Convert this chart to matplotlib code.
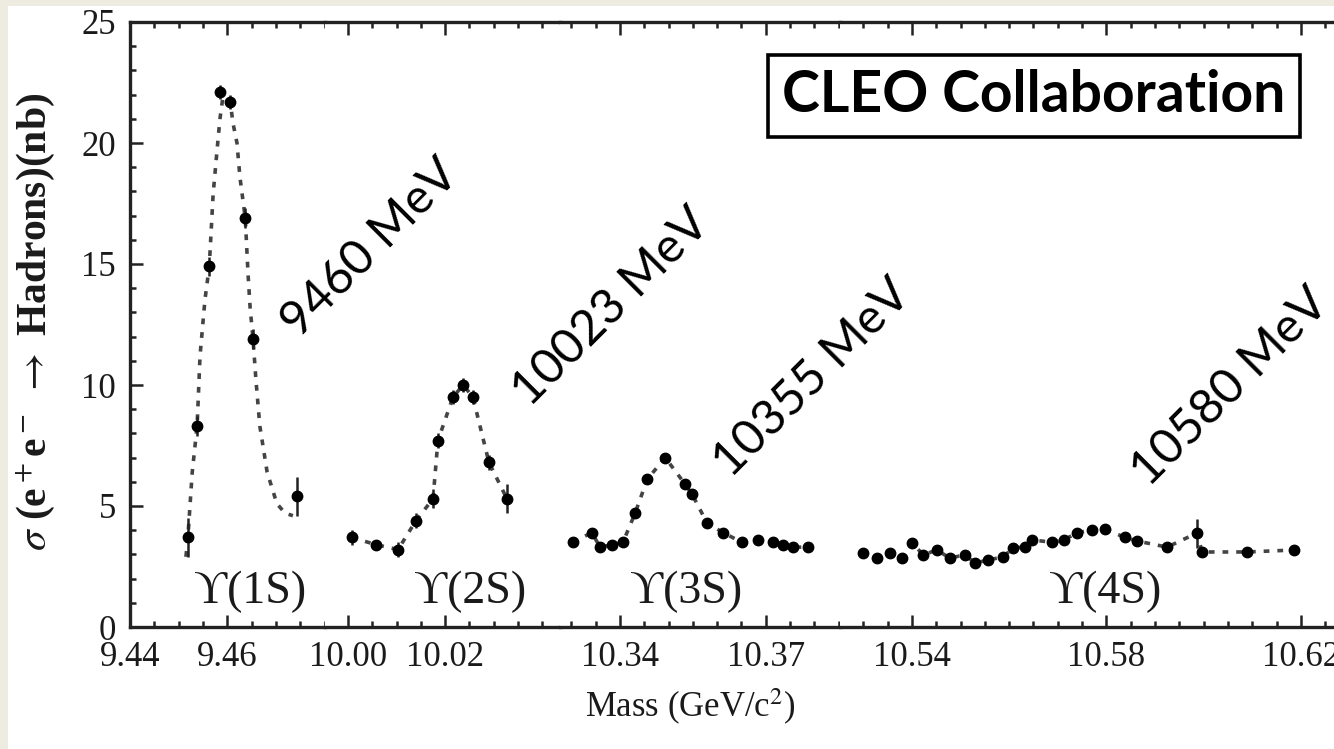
import matplotlib.pyplot as plt
from matplotlib.patches import Rectangle
from matplotlib.ticker import MultipleLocator, FixedLocator

plt.rcParams['mathtext.fontset'] = 'stix'

# 数据：质量 (GeV/c^2) 与截面 (nb)
# Y(1S)
m1 = [9.4519, 9.4538, 9.4563, 9.4585, 9.4606, 9.4637, 9.4653, 9.4744]
s1 = [3.7, 8.3, 14.9, 22.1, 21.7, 16.9, 11.9, 5.4]
e1 = [0.8, 0.4, 0.4, 0.3, 0.3, 0.4, 0.4, 0.8]
fit1_m = [9.4515, 9.4519, 9.4528, 9.4538, 9.4544, 9.4554, 9.4563, 9.4571, 9.4579,
          9.4585, 9.4591, 9.4606, 9.4612, 9.4620, 9.4626, 9.4637, 9.4643, 9.4647,
          9.4653, 9.4659, 9.4667, 9.4682, 9.4702, 9.4719, 9.4735]
fit1_s = [2.9, 3.7, 6.4, 8.3, 11.2, 13.5, 14.9, 17.9, 19.7,
          21.0, 21.9, 21.7, 20.8, 20.0, 18.6, 16.9, 14.5, 13.2,
          11.9, 10.2, 8.3, 6.4, 5.1, 4.7, 4.6]

# Y(2S)
m2 = [10.0008, 10.0058, 10.0103, 10.0140, 10.0175, 10.0185, 10.0216, 10.0237,
      10.0257, 10.0290, 10.0327]
s2 = [3.7, 3.4, 3.2, 4.4, 5.3, 7.7, 9.5, 10.0, 9.5, 6.8, 5.3]
e2 = [0.3, 0.2, 0.3, 0.3, 0.4, 0.3, 0.3, 0.3, 0.3, 0.3, 0.6]

# Y(3S)
m3 = [10.3303, 10.3342, 10.3359, 10.3384, 10.3406, 10.3431, 10.3456, 10.3493,
      10.3534, 10.3548, 10.3579, 10.3612, 10.3651, 10.3684, 10.3715, 10.3735,
      10.3756, 10.3787]
s3 = [3.5, 3.9, 3.3, 3.4, 3.5, 4.7, 6.1, 7.0, 5.9, 5.5, 4.3, 3.9, 3.5, 3.6,
      3.5, 3.4, 3.3, 3.3]
e3 = [0.2] * len(m3)

# Y(4S)
m4 = [10.5299, 10.5328, 10.5355, 10.5379, 10.5401, 10.5423, 10.5451, 10.5478,
      10.5509, 10.5530, 10.5556, 10.5587, 10.5608, 10.5633, 10.5647, 10.5688,
      10.5713, 10.5740, 10.5770, 10.5797, 10.5838, 10.5864, 10.5925, 10.5986,
      10.5997, 10.6089, 10.6185]
s4 = [3.06, 2.85, 3.06, 2.85, 3.47, 2.98, 3.18, 2.85, 2.98, 2.64, 2.77, 2.89,
      3.26, 3.31, 3.6, 3.5, 3.6, 3.9, 4.0, 4.05, 3.7, 3.55, 3.3, 3.88, 3.1,
      3.1, 3.18]
e4 = [0.15] * 23 + [0.6, 0.15, 0.15, 0.15]

masses = [m1, m2, m3, m4]
sigmas = [s1, s2, s3, s4]
errors = [e1, e2, e3, e4]

seg_lims = [(9.44, 9.4801), (9.99527, 10.04362), (10.32765, 10.38527), (10.52519, 10.62683)]
seg_major = [[9.44, 9.46], [10.00, 10.02], [10.34, 10.37], [10.54, 10.58, 10.62]]
seg_labels = [['9.44', '9.46'], ['10.00', '10.02'], ['10.34', '10.37'],
              ['10.54', '10.58', '10.62']]
states = ['ϒ(1S)', 'ϒ(2S)', 'ϒ(3S)', 'ϒ(4S)']
state_pos = [9.4647, 10.0251, 10.3536, 10.5797]

peaks = ['9460 MeV', '10023 MeV', '10355 MeV', '10580 MeV']
peak_xy = [(370, 248), (611, 307), (812, 378), (1230, 387)]

serif = ['Liberation Serif', 'DejaVu Serif']
W, H = 1334, 749

fig = plt.figure(figsize=(W / 100, H / 100), dpi=100, facecolor='#EEECE1')
fig.patches.append(Rectangle((8 / W, 0), 1 - 8 / W, 1 - 6 / H, transform=fig.transFigure,
                             facecolor='white', edgecolor='none', zorder=-10))

gs = fig.add_gridspec(1, 4, width_ratios=[195, 235, 280, 494], left=130 / W, right=1.0,
                      bottom=1 - 627 / H, top=1 - 22 / H, wspace=0)
axes = []
for i in range(4):
    ax = fig.add_subplot(gs[0, i], sharey=axes[0] if axes else None)
    axes.append(ax)

for i, ax in enumerate(axes):
    if i == 0:
        ax.plot(fit1_m, fit1_s, color='#444444', lw=2.6, ls=(0, (1.6, 2.2)), zorder=2)
    else:
        ax.plot(masses[i], sigmas[i], color='#444444', lw=2.6, ls=(0, (1.6, 2.2)), zorder=2)
    ax.errorbar(masses[i], sigmas[i], yerr=errors[i], fmt='o', ms=7.5, color='black',
                ecolor='#222222', elinewidth=1.8, capsize=0, zorder=3)
    ax.text(state_pos[i], 1.45, states[i], ha='center', va='center',
            fontsize=33, family=serif, color='#1a1a1a')

    ax.set_xlim(seg_lims[i])
    ax.xaxis.set_major_locator(FixedLocator(seg_major[i]))
    ax.set_xticklabels(seg_labels[i])
    ax.xaxis.set_minor_locator(MultipleLocator(0.005))
    ax.tick_params(axis='x', which='both', direction='in', top=True, bottom=True,
                   width=1.8, color='#222222')
    ax.tick_params(axis='x', which='major', length=9, pad=10, labelsize=25)
    ax.tick_params(axis='x', which='minor', length=4)
    for lab in ax.get_xticklabels():
        lab.set_family(serif)
        lab.set_color('#1a1a1a')

    for side in ['top', 'bottom']:
        ax.spines[side].set_linewidth(2.4)
        ax.spines[side].set_color('#222222')
    ax.spines['right'].set_visible(False)
    if i > 0:
        ax.spines['left'].set_visible(False)
        ax.tick_params(axis='y', which='both', left=False, labelleft=False)

ax0 = axes[0]
ax0.set_ylim(0, 25)
ax0.yaxis.set_major_locator(MultipleLocator(5))
ax0.yaxis.set_minor_locator(MultipleLocator(1))
ax0.tick_params(axis='y', which='both', direction='in', width=1.8, color='#222222')
ax0.tick_params(axis='y', which='major', length=9, pad=10, labelsize=25)
ax0.tick_params(axis='y', which='minor', length=4)
for lab in ax0.get_yticklabels():
    lab.set_family(serif)
    lab.set_color('#1a1a1a')
ax0.spines['left'].set_linewidth(2.4)
ax0.spines['left'].set_color('#222222')

fig.text(35 / W, 1 - 322 / H, r'$\sigma$ (e$^+$e$^-$ $\rightarrow$ Hadrons)(nb)',
         rotation=90, ha='center', va='center', fontsize=30, family=serif,
         fontweight='bold', color='#1a1a1a')
fig.text(690 / W, 1 - 707 / H, r'Mass (GeV/c$^2$)', ha='center', va='center',
         fontsize=25, family=serif, color='#1a1a1a')

for txt, (px, py) in zip(peaks, peak_xy):
    fig.text(px / W, 1 - py / H, txt, rotation=45, rotation_mode='anchor',
             ha='center', va='center', fontsize=35, family='Lato', color='black')

fig.text(1034 / W, 1 - 96 / H, 'CLEO Collaboration', ha='center', va='center',
         fontsize=41, family='Lato', fontweight='bold', color='black',
         bbox=dict(boxstyle='square,pad=0.25', facecolor='white', edgecolor='black', lw=2.6))

fig.savefig('out.png', dpi=100, facecolor=fig.get_facecolor())
